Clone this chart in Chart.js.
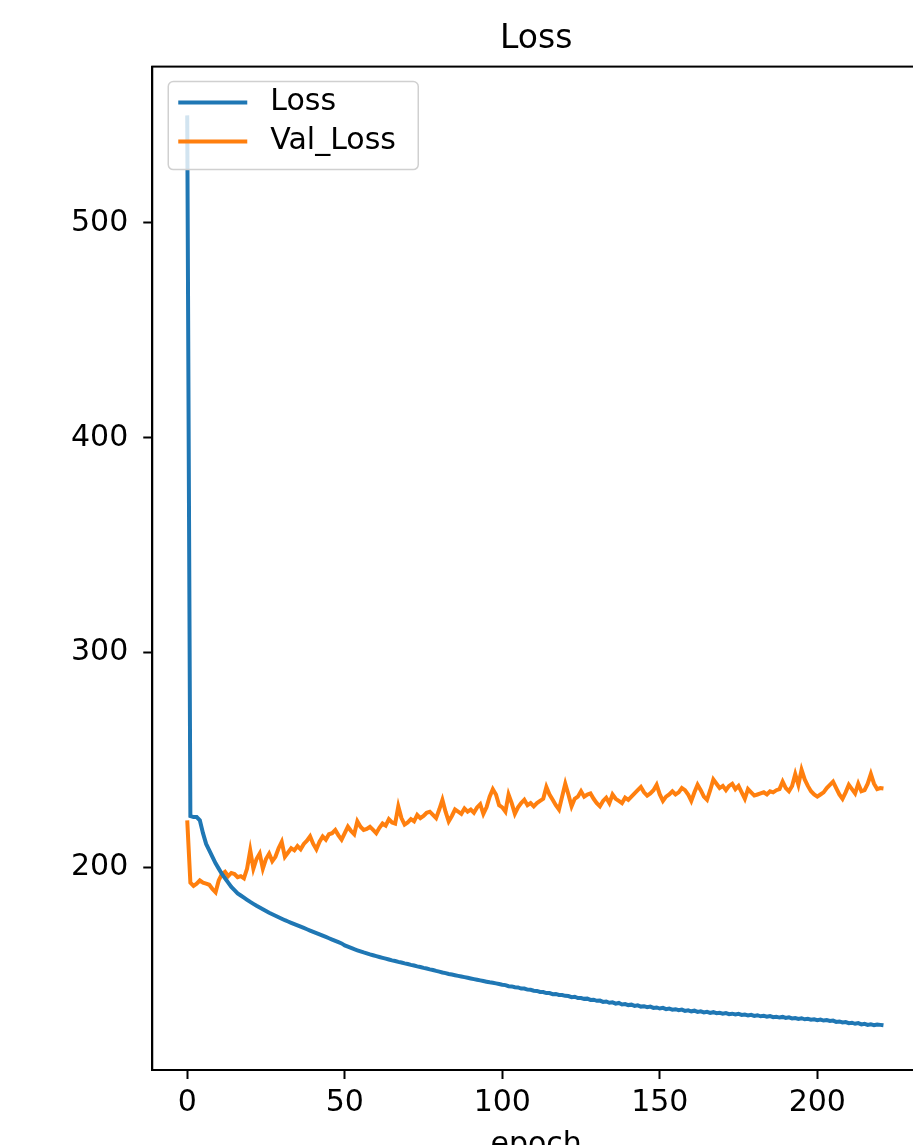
<!DOCTYPE html>
<html>
<head>
<meta charset="utf-8">
<script src="https://cdn.jsdelivr.net/npm/chart.js@4.4.1/dist/chart.umd.min.js"></script>
<style>
  html, body { margin: 0; padding: 0; background: #fff; overflow: hidden; }
  #lossChart { display: block; }
</style>
</head>
<body>
<canvas id="lossChart" width="935" height="1165"></canvas>
<script>
// === data ===
const lossVals = [
  550, 224, 223.5, 223.5, 222, 216, 211, 208, 205, 202,
  199.5, 197, 195, 193, 191, 189.5, 188, 187, 186, 185,
  184, 183.1, 182.2, 181.4, 180.6, 179.8, 179.0, 178.3, 177.6, 176.9,
  176.2, 175.5, 174.9, 174.3, 173.7, 173.1, 172.5, 171.9, 171.3, 170.7,
  170.1, 169.5, 168.9, 168.3, 167.7, 167.1, 166.5, 165.9, 165.3, 164.7,
  163.8, 163.2, 162.6, 162.0, 161.5, 161.0, 160.5, 160.1, 159.6, 159.2,
  158.8, 158.4, 158.0, 157.6, 157.2, 156.8, 156.5, 156.1, 155.8, 155.4,
  155.1, 154.7, 154.4, 154.0, 153.7, 153.3, 153.0, 152.6, 152.3, 151.9,
  151.6, 151.2, 150.9, 150.5, 150.2, 149.9, 149.6, 149.3, 149.0, 148.7,
  148.4, 148.1, 147.8, 147.5, 147.2, 146.9, 146.6, 146.4, 146.1, 145.8,
  145.5, 145.3, 144.8, 144.7, 144.3, 144.2, 143.7, 143.7, 143.2, 143.1,
  142.7, 142.6, 142.1, 142.1, 141.6, 141.6, 141.1, 141.2, 140.7, 140.7,
  140.3, 140.2, 139.7, 139.9, 139.3, 139.3, 138.9, 139.0, 138.4, 138.5,
  138.0, 138.1, 137.5, 137.7, 137.1, 137.3, 136.7, 137.0, 136.3, 136.5,
  136.0, 136.2, 135.6, 135.9, 135.3, 135.5, 135.0, 135.3, 134.7, 134.9,
  134.4, 134.7, 134.1, 134.4, 133.9, 134.1, 133.6, 133.9, 133.3, 133.6,
  133.1, 133.4, 132.8, 133.1, 132.6, 132.9, 132.4, 132.7, 132.2, 132.4,
  132.0, 132.3, 131.8, 132.0, 131.6, 131.9, 131.4, 131.6, 131.2, 131.5,
  131.0, 131.3, 130.8, 131.0, 130.6, 130.9, 130.4, 130.6, 130.2, 130.5,
  130.0, 130.3, 129.8, 130.0, 129.6, 129.9, 129.4, 129.6, 129.2, 129.4,
  129.0, 129.3, 128.8, 129.0, 128.6, 128.8, 128.2, 128.4, 127.9, 128.1,
  127.6, 127.8, 127.3, 127.6, 127.0, 127.3, 126.8, 127.1, 126.7, 127.0,
  126.8, 126.6
];
const valLossVals = [
  222, 193, 191.5, 192.5, 194, 193, 192.5, 192, 190, 188.5,
  194, 197, 198, 196, 197.5, 197, 195.5, 196, 195, 199.5,
  208, 199.5, 204, 206.5, 199.5, 204, 206.5, 203, 205, 209,
  212, 205, 207, 209, 208, 210, 208.5, 211, 212.5, 214.5,
  211, 208.5, 212, 214.5, 213, 215.5, 216, 217.5, 215, 213,
  216, 219, 217, 215.5, 221.5, 219, 217.5, 218, 219, 217.5,
  216, 218.5, 220.5, 219.5, 222.5, 221, 220.5, 228.5, 223, 220,
  221, 222.5, 221.5, 224.5, 223, 224, 225.5, 226, 224.5, 223,
  227, 231.5, 226, 221.5, 224, 227, 226, 225, 227.5, 226,
  227, 225.5, 228, 229.5, 225, 228, 233, 236.5, 234, 229,
  228, 226, 234, 230, 225, 228, 230, 231.5, 229, 230,
  228.5, 230, 231, 232, 237.5, 234, 231.5, 229, 227, 233,
  239, 234, 228.5, 232, 233, 235.5, 233, 234, 234.5, 232,
  230, 228.5, 231, 232.5, 230, 234, 232, 231, 230, 232.5,
  231.5, 233, 234.5, 236, 237.5, 235, 233.5, 234.5, 236, 238.5,
  234, 231, 233, 234, 235.5, 234, 235, 237, 236, 234,
  231, 235, 238.5, 236, 233, 231.5, 236, 241, 239, 237,
  238, 236, 238, 239, 236.5, 238, 235, 232, 236.5, 235,
  233.5, 234, 234.5, 235, 234, 235.5, 235, 236, 236.5, 240,
  237, 235.5, 238, 243.5, 238.5, 245.5, 241, 238, 235.5, 234,
  233, 234, 235, 237, 238.5, 240, 237, 234, 232, 235,
  238.5, 236.5, 234.5, 239, 235.5, 236, 239, 243.5, 239, 236.5,
  237, 236.8
];
const epochs = lossVals.map((_, i) => i);
const xTicks = [0, 50, 100, 150, 200];
const yTicks = [200, 300, 400, 500];
const seriesNames = ['Loss', 'Val_Loss'];
const seriesColors = ['#1f77b4', '#ff7f0e'];

const FONT = 'DejaVu Sans';

// frame (top/right spines) + matplotlib-style legend box
const framePlugin = {
  id: 'frame',
  afterDraw(chart) {
    const {ctx, chartArea: a} = chart;
    ctx.save();
    ctx.strokeStyle = '#000';
    ctx.lineWidth = 2;
    ctx.strokeRect(a.left, a.top, a.right - a.left, a.bottom - a.top);

    // legend
    const bx = a.left + 16, by = a.top + 15, bw = 250, bh = 88;
    ctx.beginPath();
    ctx.roundRect(bx, by, bw, bh, 5);
    ctx.fillStyle = 'rgba(255,255,255,0.8)';
    ctx.fill();
    ctx.strokeStyle = '#d0d0d0';
    ctx.lineWidth = 1.5;
    ctx.stroke();
    ctx.font = '30px "' + FONT + '"';
    ctx.textBaseline = 'middle';
    ctx.fillStyle = '#000';
    seriesNames.forEach((name, i) => {
      const y = by + 21 + i * 39;
      ctx.beginPath();
      ctx.moveTo(bx + 10, y);
      ctx.lineTo(bx + 79, y);
      ctx.strokeStyle = seriesColors[i];
      ctx.lineWidth = 4;
      ctx.stroke();
      ctx.fillText(name, bx + 102, y);
    });
    ctx.restore();
  }
};

const lossChart = new Chart(document.getElementById('lossChart').getContext('2d'), {
  type: 'line',
  data: {
    datasets: [lossVals, valLossVals].map((vals, idx) => ({
      label: seriesNames[idx],
      data: vals.map((v, i) => ({x: epochs[i], y: v})),
      borderColor: seriesColors[idx],
      borderWidth: 4,
      pointRadius: 0,
      fill: false,
      tension: 0
    }))
  },
  options: {
    responsive: false,
    animation: false,
    devicePixelRatio: 1,
    layout: { padding: { left: 56, right: 15, top: 8, bottom: 2 } },
    plugins: {
      legend: { display: false },
      tooltip: { enabled: false },
      title: {
        display: true,
        text: 'Loss',
        fullSize: false,
        color: '#000',
        font: { family: FONT, size: 33, weight: 'normal' },
        padding: { top: 12, bottom: 7 }
      }
    },
    scales: {
      x: {
        type: 'linear',
        min: -11.1,
        max: 232.6,
        afterBuildTicks: s => { s.ticks = xTicks.map(v => ({value: v})); },
        ticks: { color: '#000', font: { family: FONT, size: 30 }, padding: 6, maxRotation: 0 },
        grid: { drawOnChartArea: false, color: '#000', tickLength: 9, tickWidth: 2 },
        border: { color: '#000', width: 2 },
        title: {
          display: true, text: 'epoch', color: '#000',
          font: { family: FONT, size: 30 }, padding: { top: 0, bottom: 0 }
        }
      },
      y: {
        min: 105.8,
        max: 572.7,
        afterBuildTicks: s => { s.ticks = yTicks.map(v => ({value: v})); },
        ticks: { color: '#000', font: { family: FONT, size: 30 }, padding: 15 },
        grid: { drawOnChartArea: false, color: '#000', tickLength: 9, tickWidth: 2 },
        border: { color: '#000', width: 2 }
      }
    }
  },
  plugins: [framePlugin]
});
</script>
</body>
</html>
